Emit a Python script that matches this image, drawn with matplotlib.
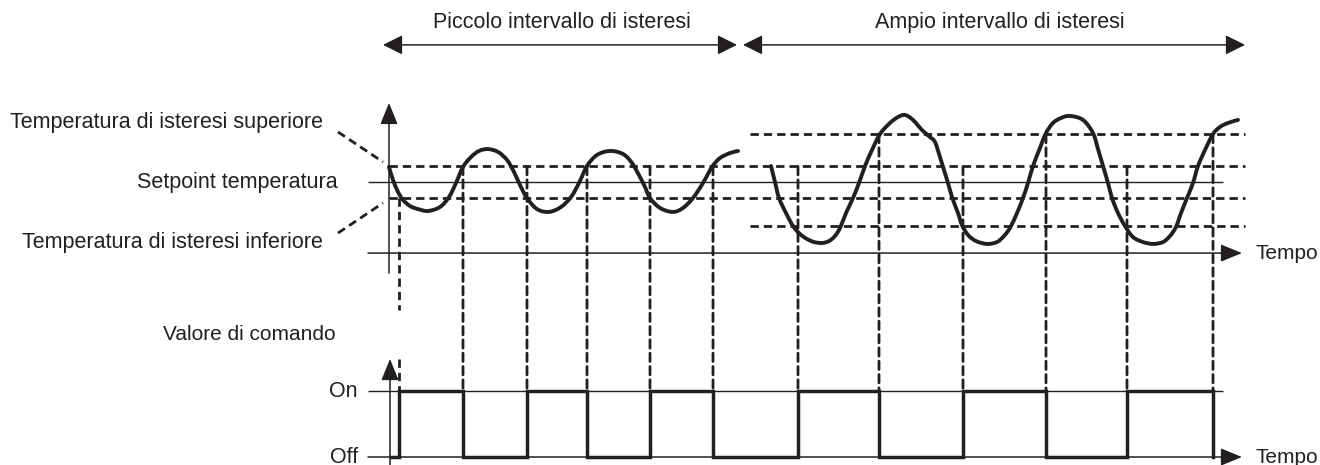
import matplotlib
matplotlib.use('Agg')
import matplotlib.pyplot as plt
from matplotlib.patches import ConnectionPatch, PathPatch
from matplotlib.path import Path

plt.rcParams['font.family'] = ['Liberation Sans', 'DejaVu Sans']
plt.rcParams['lines.scale_dashes'] = False

# ---------------- data ----------------
# temperature curve, small hysteresis part (time, °C)
time_small = [0.0, 0.4, 0.9, 1.4, 2.1, 2.9, 3.9, 5.1, 6.0, 6.7, 7.4, 8.2, 9.0, 9.9,
              10.9, 11.8, 12.5, 13.1, 13.8, 14.8, 16.0, 17.2, 18.2, 19.0, 19.8, 20.8,
              22.1, 23.4, 24.3, 25.1, 25.6, 26.1, 27.1, 28.4, 29.4, 30.4, 31.4, 32.3,
              33.1, 34.1, 34.9]
temp_small = [20.97, 20.16, 19.41, 18.91, 18.53, 18.34, 18.22, 18.47, 19.09, 19.97,
              20.97, 21.59, 21.97, 22.09, 21.91, 21.41, 20.66, 19.84, 19.03, 18.34,
              18.16, 18.47, 19.09, 19.97, 21.03, 21.72, 21.97, 21.78, 21.22, 20.34,
              19.72, 19.03, 18.41, 18.16, 18.41, 19.03, 19.97, 20.97, 21.53, 21.84,
              21.97]
# temperature curve, large hysteresis part
time_large = [38.2, 38.6, 39.0, 39.7, 40.4, 41.1, 41.8, 42.5, 43.3, 44.0, 44.6, 45.1,
              45.7, 46.4, 47.0, 47.6, 48.3, 49.1, 50.1, 50.9, 51.6, 52.4, 53.3, 54.1,
              54.6, 55.1, 55.4, 55.9, 56.3, 56.9, 57.3, 57.9, 58.7, 59.8, 60.8, 61.5,
              62.1, 62.8, 63.4, 63.9, 64.4, 65.1, 65.7, 66.4, 67.2, 68.1, 69.4, 70.4,
              70.9, 71.4, 71.9, 72.3, 72.9, 73.6, 74.4, 75.4, 76.4, 77.4, 78.1, 78.7,
              79.2, 79.8, 80.4, 80.9, 81.6, 82.4, 83.1, 83.9, 84.9]
temp_large = [21.03, 20.03, 19.03, 18.09, 17.28, 16.78, 16.47, 16.28, 16.22, 16.34,
              16.66, 17.16, 18.09, 19.03, 19.97, 21.03, 22.03, 23.03, 23.72, 24.09,
              24.22, 23.91, 23.28, 22.84, 22.53, 21.59, 20.97, 19.97, 19.09, 18.09,
              17.34, 16.72, 16.34, 16.16, 16.28, 16.66, 17.16, 18.09, 19.03, 19.97,
              21.03, 22.16, 23.09, 23.72, 24.03, 24.16, 23.91, 23.09, 22.09, 21.03,
              19.97, 19.03, 18.09, 17.28, 16.59, 16.28, 16.16, 16.28, 16.66, 17.22,
              18.09, 19.03, 19.97, 21.03, 22.03, 23.03, 23.47, 23.72, 23.91]

setpoint = 20.0
hyst_small_low, hyst_small_high = 19.0, 21.0
hyst_large_low, hyst_large_high = 17.25, 23.0

# switching instants of the command value and the new state (1 = On, 0 = Off)
switch_times = [1.0, 7.4, 13.8, 19.8, 26.1, 32.4, 40.9, 49.0, 57.4, 65.7, 73.8, 82.4]
command_states = [1, 0, 1, 0, 1, 0, 1, 0, 1, 0, 1, 0]
command_start = 0.2
# temperature level where each guide line starts
guide_start_temp = [19.0, 21.0, 21.0, 21.0, 21.0, 21.0, 21.0, 23.0, 21.0, 23.0, 21.0, 23.0]

label_top_small = 'Piccolo intervallo di isteresi'
label_top_large = 'Ampio intervallo di isteresi'
label_upper = 'Temperatura di isteresi superiore'
label_setpoint = 'Setpoint temperatura'
label_lower = 'Temperatura di isteresi inferiore'
label_command = 'Valore di comando'
label_on, label_off = 'On', 'Off'
label_time = 'Tempo'

# ---------------- drawing ----------------
INK = '#231f20'
FS = 15.5
DASH = (0, (6, 3.6))
DLW = 2.0

fig = plt.figure(figsize=(13.2, 4.65), dpi=100)
ax_t = fig.add_axes([0, 165 / 465, 1, 300 / 465])
ax_c = fig.add_axes([0, 0, 1, 165 / 465])
for ax in (ax_t, ax_c):
    ax.set_xlim(-38.9, 93.1)
    ax.axis('off')
ax_t.set_ylim(12.656, 31.406)
ax_c.set_ylim(-0.121, 2.379)


def smooth_path(xs, ys):
    """Smooth Bezier path running through the read points (Catmull-Rom)."""
    pts = list(zip(xs, ys))
    verts = [pts[0]]
    codes = [Path.MOVETO]
    n = len(pts)
    for i in range(n - 1):
        p0 = pts[i - 1] if i > 0 else pts[i]
        p1 = pts[i]
        p2 = pts[i + 1]
        p3 = pts[i + 2] if i + 2 < n else pts[i + 1]
        c1 = (p1[0] + (p2[0] - p0[0]) / 6, p1[1] + (p2[1] - p0[1]) / 6)
        c2 = (p2[0] - (p3[0] - p1[0]) / 6, p2[1] - (p3[1] - p1[1]) / 6)
        verts += [c1, c2, p2]
        codes += [Path.CURVE4] * 3
    return Path(verts, codes)


arrow_kw = dict(arrowstyle='-|>,head_length=1.1,head_width=0.45', color=INK, lw=1.1,
                shrinkA=0, shrinkB=0, mutation_scale=12)

# --- temperature axes
ax_t.annotate('', xy=(0.0, 24.97), xytext=(0.0, 14.34), arrowprops=arrow_kw)
ax_t.annotate('', xy=(85.3, 15.59), xytext=(-2.1, 15.59), arrowprops=arrow_kw)
ax_t.text(86.7, 15.59, label_time, fontsize=15, color=INK, va='center', ha='left')

ax_t.hlines(setpoint, -2.1, 83.4, color=INK, lw=1.0)
for lvl in (hyst_small_low, hyst_small_high):
    ax_t.hlines(lvl, 0.0, 85.6, color=INK, lw=DLW, linestyles=[DASH])
for lvl in (hyst_large_low, hyst_large_high):
    ax_t.hlines(lvl, 36.1, 85.6, color=INK, lw=DLW, linestyles=[DASH])

for xs, ys in ((time_small, temp_small), (time_large, temp_large)):
    ax_t.add_patch(PathPatch(smooth_path(xs, ys), facecolor='none', edgecolor=INK,
                             lw=2.8, capstyle='round', joinstyle='round'))

# left labels and leaders
ax_t.text(-6.6, 23.72, label_upper, fontsize=FS, color=INK, ha='right', va='center')
ax_t.text(-5.1, 20.03, label_setpoint, fontsize=FS, color=INK, ha='right', va='center')
ax_t.text(-6.6, 16.28, label_lower, fontsize=FS, color=INK, ha='right', va='center')
ax_t.plot([-5.1, -0.6], [23.16, 21.28], color=INK, lw=DLW, ls=DASH)
ax_t.plot([-5.1, -0.6], [16.84, 18.72], color=INK, lw=DLW, ls=DASH)

# top interval arrows
dbl = dict(arrowstyle='<|-|>,head_length=1.0,head_width=0.5', color=INK, lw=1.1,
           shrinkA=0, shrinkB=0, mutation_scale=12)
ax_t.annotate('', xy=(-0.6, 28.6), xytext=(34.8, 28.6), arrowprops=dbl)
ax_t.annotate('', xy=(35.4, 28.6), xytext=(85.6, 28.6), arrowprops=dbl)
ax_t.text(17.3, 30.0, label_top_small, fontsize=FS, color=INK, ha='center', va='center')
ax_t.text(61.1, 30.0, label_top_large, fontsize=FS, color=INK, ha='center', va='center')

# --- command axes
ax_c.annotate('', xy=(0.1, 1.485), xytext=(0.1, -0.121), arrowprops=arrow_kw)
ax_c.annotate('', xy=(85.3, 0.0), xytext=(-2.1, 0.0), arrowprops=arrow_kw)
ax_c.hlines(1.0, -2.1, 83.4, color=INK, lw=1.0)
ax_c.text(86.7, 0.0, label_time, fontsize=15, color=INK, va='center', ha='left')
ax_c.text(-3.1, 1.0, label_on, fontsize=FS, color=INK, va='center', ha='right')
ax_c.text(-3.1, 0.0, label_off, fontsize=FS, color=INK, va='center', ha='right')
ax_c.text(-22.6, 1.85, label_command, fontsize=15, color=INK, va='center', ha='left')

ax_c.plot([command_start] + switch_times, [0] + command_states, drawstyle='steps-post',
          color=INK, lw=2.5, solid_joinstyle='miter')

# --- guide lines linking crossings to command edges
first_t = switch_times[0]
ax_t.plot([first_t, first_t], [guide_start_temp[0], 12.03], color=INK, lw=DLW, ls=DASH,
          clip_on=False)
ax_c.plot([first_t, first_t], [1.485, 1.0], color=INK, lw=DLW, ls=DASH)
for t, T0 in zip(switch_times[1:], guide_start_temp[1:]):
    con = ConnectionPatch(xyA=(t, T0), coordsA=ax_t.transData,
                          xyB=(t, 1.0), coordsB=ax_c.transData,
                          color=INK, lw=DLW, linestyle=DASH)
    fig.add_artist(con)

fig.savefig('out.png', dpi=100)
